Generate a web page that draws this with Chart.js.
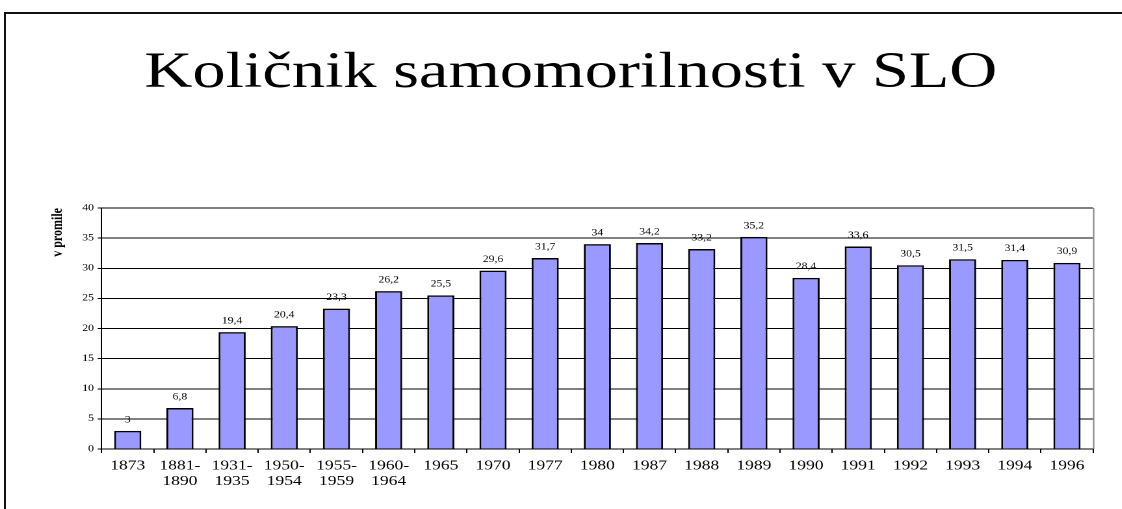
<!DOCTYPE html>
<html>
<head>
<meta charset="utf-8">
<script src="https://cdn.jsdelivr.net/npm/chart.js@4"></script>
<style>
  html, body { margin:0; padding:0; background:#fff; overflow:hidden; }
  #frame { position:absolute; left:4px; top:12px; width:1118px; height:497px;
           border-top:2px solid #111; border-left:2px solid #111; box-sizing:border-box; }
  #wrap { position:absolute; left:0; top:0; width:863px; height:509px;
          transform:scaleX(1.3); transform-origin:0 0; }
</style>
</head>
<body>
<div id="frame"></div>
<div id="wrap"><canvas id="c" width="863" height="509"></canvas></div>
<script>
const titleText = 'Količnik samomorilnosti v SLO';
const yAxisTitle = 'v promile';
const categories = [
  '1873', ['1881-','1890'], ['1931-','1935'], ['1950-','1954'], ['1955-','1959'],
  ['1960-','1964'], '1965', '1970', '1977', '1980', '1987', '1988', '1989',
  '1990', '1991', '1992', '1993', '1994', '1996'
];
const values = [3, 6.8, 19.4, 20.4, 23.3, 26.2, 25.5, 29.6, 31.7, 34, 34.2, 33.2, 35.2, 28.4, 33.6, 30.5, 31.5, 31.4, 30.9];
const yMin = 0, yMax = 40, yStep = 5;

const serif = "'Liberation Serif', 'Times New Roman', serif";

const valueLabels = {
  id: 'valueLabels',
  afterDatasetsDraw(chart) {
    const ctx = chart.ctx;
    const meta = chart.getDatasetMeta(0);
    ctx.save();
    ctx.font = '9px ' + serif;
    ctx.fillStyle = '#000';
    ctx.textAlign = 'center';
    ctx.textBaseline = 'middle';
    meta.data.forEach((bar, i) => {
      ctx.fillText(String(values[i]).replace('.', ','), bar.x, bar.y - 11);
    });
    ctx.restore();
  }
};
const plotBorder = {
  id: 'plotBorder',
  afterDraw(chart) {
    const a = chart.chartArea, ctx = chart.ctx;
    ctx.save();
    ctx.strokeStyle = '#808080';
    ctx.lineWidth = 1;
    ctx.beginPath();
    ctx.moveTo(a.right + 0.5, a.top);
    ctx.lineTo(a.right + 0.5, a.bottom);
    ctx.stroke();
    ctx.restore();
  }
};

new Chart(document.getElementById('c'), {
  type: 'bar',
  data: {
    labels: categories,
    datasets: [{
      data: values,
      backgroundColor: '#9999FF',
      borderColor: '#000',
      borderWidth: 1.5,
      barPercentage: 0.52,
      categoryPercentage: 1
    }]
  },
  options: {
    responsive: false,
    animation: false,
    devicePixelRatio: 2,
    layout: { padding: { left: 37.4, right: 22.2, top: 0, bottom: 0 } },
    plugins: {
      legend: { display: false },
      tooltip: { enabled: false },
      title: {
        display: true,
        text: titleText,
        color: '#000',
        font: { family: serif, size: 51, weight: 'normal', lineHeight: 1.2 },
        padding: { top: 43, bottom: 103.8 }
      }
    },
    scales: {
      x: {
        grid: { drawOnChartArea: false, drawTicks: true, tickLength: 4, color: '#000', offset: true },
        border: { color: '#000', width: 1 },
        ticks: { color: '#000', font: { family: serif, size: 13.5, lineHeight: 1.17 }, maxRotation: 0, autoSkip: false, padding: 5 },
        afterFit(s) { s.height = 60; }
      },
      y: {
        min: yMin, max: yMax,
        ticks: { stepSize: yStep, color: '#000', font: { family: serif, size: 9 }, padding: 3 },
        grid: { color: '#000', lineWidth: 1, tickLength: 3 },
        border: { color: '#000', width: 1 },
        title: {
          display: true, text: yAxisTitle, align: 'end', color: '#000',
          font: { family: serif, size: 12, weight: 'bold', lineHeight: 1.2 },
          padding: { top: 0, bottom: 0 }
        },
        afterFit(s) { s.width = 40.8; }
      }
    }
  },
  plugins: [valueLabels, plotBorder]
});
</script>
</body>
</html>
